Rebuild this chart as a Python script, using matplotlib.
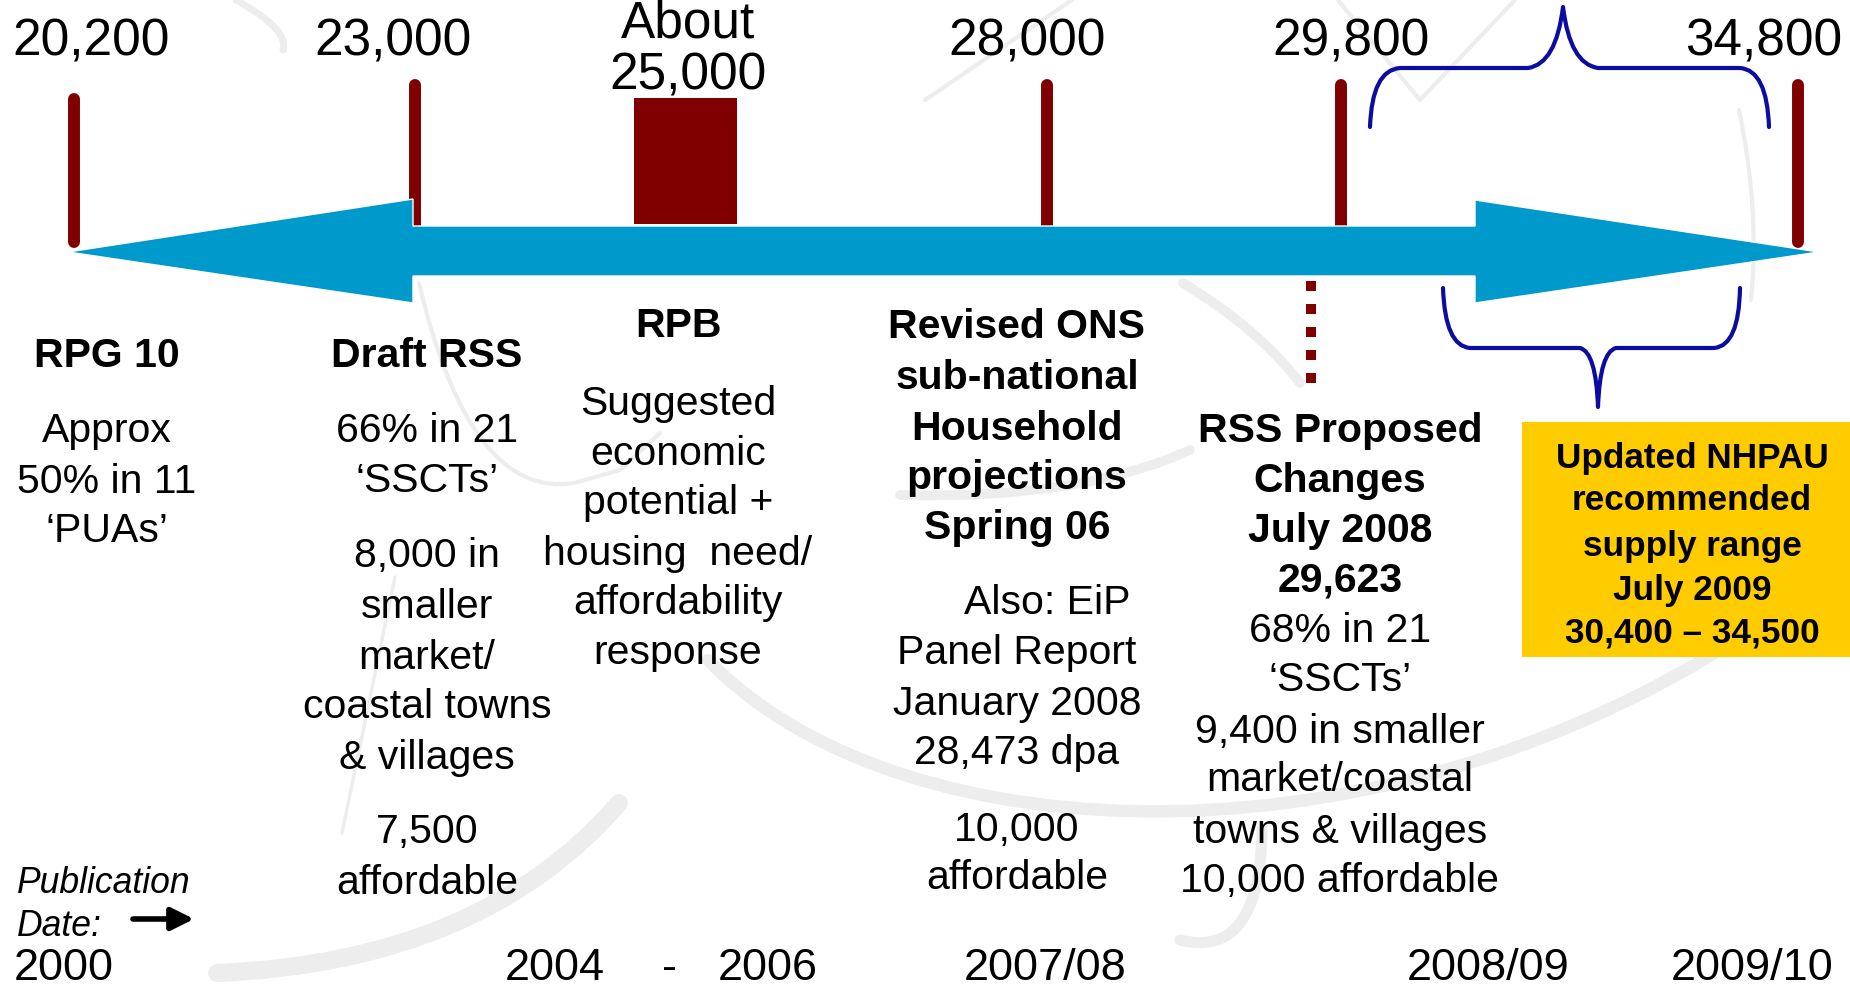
import matplotlib
matplotlib.use("Agg")
import matplotlib.pyplot as plt
from matplotlib.patches import Polygon, Rectangle, PathPatch
from matplotlib.path import Path
from matplotlib.lines import Line2D

plt.rcParams['font.family'] = ['Liberation Sans', 'DejaVu Sans']

# ---------------- data (text content) ----------------
top_values = [["20,200"], ["23,000"], ["About", "25,000"], ["28,000"], ["29,800"], ["34,800"]]
marker_kind = ["line", "line", "box", "line", "line", "line"]

col_lines = [
    [("RPG 10", True), ("Approx", False), ("50% in 11", False), ("\u2018PUAs\u2019", False)],
    [("Draft RSS", True), ("66% in 21", False), ("\u2018SSCTs\u2019", False), ("8,000 in", False),
     ("smaller", False), ("market/", False), ("coastal towns", False), ("& villages", False),
     ("7,500", False), ("affordable", False)],
    [("RPB", True), ("Suggested", False), ("economic", False), ("potential +", False),
     ("housing  need/", False), ("affordability", False), ("response", False)],
    [("Revised ONS", True), ("sub-national", True), ("Household", True), ("projections", True),
     ("Spring 06", True), ("Also: EiP", False), ("Panel Report", False), ("January 2008", False),
     ("28,473 dpa", False), ("10,000", False), ("affordable", False)],
    [("RSS Proposed", True), ("Changes", True), ("July 2008", True), ("29,623", True),
     ("68% in 21", False), ("\u2018SSCTs\u2019", False), ("9,400 in smaller", False),
     ("market/coastal", False), ("towns & villages", False), ("10,000 affordable", False)],
]
nhpau_lines = ["Updated NHPAU", "recommended", "supply range", "July 2009", "30,400 \u2013 34,500"]
pub_lines = ["Publication", "Date:"]
years = ["2000", "2004", "-", "2006", "2007/08", "2008/09", "2009/10"]

# ---------------- layout (pixel coordinates) ----------------
W, H = 1850, 989
marker_x = [74, 415, 686, 1047, 1341, 1798]
marker_top = [99, 85, 98, 85, 85, 85]
marker_bot = [242, 236, 224, 236, 236, 242]
value_cx = [91, 393, 688, 1027, 1351, 1764]
value_cy = [[37], [37], [19, 71], [37], [37], [37]]

col_x = [107, 427, 678, 1017, 1340]
col_y = [
    [352, 427, 478, 527],
    [352, 427, 477, 552, 603, 654, 703, 754, 828, 879],
    [322, 400, 450, 499, 550, 599, 649],
    [323, 374, 425, 474, 524, 599, 649, 700, 749, 826, 874],
    [427, 477, 527, 577, 627, 676, 728, 776, 828, 877],
]
col_dx = {(3, 5): 30}
nhpau_y = [455, 497, 543, 587, 630]
year_x = [14, 555, 669, 768, 1045, 1488, 1752]
year_ha = ["left", "center", "center", "center", "center", "center", "center"]

BLUE = "#0099CC"
DRED = "#800000"
NAVY = "#0C0CA0"
YEL = "#FFCC00"
WM = "#ededed"

fig = plt.figure(figsize=(W / 100, H / 100), dpi=100)
ax = fig.add_axes([0, 0, 1, 1])
ax.set_xlim(0, W)
ax.set_ylim(H, 0)
ax.axis("off")


def put(x, yc, s, size, bold=False, italic=False, ha="center", color="black", z=5):
    em = size * 100 / 72
    ax.text(x, yc + 0.36 * em, s, fontsize=size, fontweight="bold" if bold else "normal",
            fontstyle="italic" if italic else "normal", ha=ha, va="baseline", color=color, zorder=z)


def bez(pts, codes, lw, color=WM, z=0, cap="round"):
    p = Path(pts, codes)
    ax.add_patch(PathPatch(p, fill=False, lw=lw, edgecolor=color, zorder=z, capstyle=cap,
                           joinstyle="round"))

# ---------------- faint watermark ----------------
M, Q, C, L = Path.MOVETO, Path.CURVE3, Path.CURVE4, Path.LINETO
bez([(217, 973), (482, 962), (619, 803)], [M, Q, Q], 13)
bez([(395, 577), (342, 833)], [M, L], 2.5)
bez([(419, 283), (470, 500), (574, 483), (620, 470), (660, 433)], [M, Q, Q, L, L], 3)
bez([(708, 660), (900, 860), (1400, 880), (1780, 610)], [M, C, C, C], 9)
bez([(1183, 283), (1260, 330), (1300, 383)], [M, Q, Q], 7)
bez([(1190, 450), (1080, 500), (900, 495)], [M, Q, Q], 7)
bez([(1262, 830), (1260, 960), (1180, 940)], [M, Q, Q], 8)
bez([(925, 100), (1072, 0)], [M, L], 3)
bez([(1338, 0), (1420, 100), (1515, 0)], [M, L, L], 3)
bez([(236, 0), (290, 30), (283, 50)], [M, Q, Q], 5)
bez([(1739, 110), (1760, 210), (1751, 300)], [M, Q, Q], 3)

# ---------------- markers ----------------
for k, x, t, b in zip(marker_kind, marker_x, marker_top, marker_bot):
    if k == "line":
        ax.add_line(Line2D([x, x], [t, b], lw=8.6, color=DRED, solid_capstyle="round", zorder=2))
    else:
        ax.add_patch(Rectangle((634, t), 103, b - t, facecolor=DRED, edgecolor="none", zorder=2))

# ---------------- double-headed arrow ----------------
arrow = [(68, 252), (413, 199), (413, 226), (1475, 226), (1475, 200), (1819, 252),
         (1475, 303), (1475, 276), (413, 276), (413, 303)]
ax.add_patch(Polygon(arrow, closed=True, facecolor=BLUE, edgecolor="white", lw=1, zorder=3))

# dashed connector
ax.add_line(Line2D([1311, 1311], [281, 391], lw=7.2, color=DRED, dashes=(1.0, 1.3),
                   solid_capstyle="butt", dash_capstyle="butt", zorder=2))

# ---------------- braces ----------------
bez([(1370, 127), (1372, 70), (1400, 68), (1528, 68), (1556, 64), (1563, 7),
     (1570, 64), (1598, 68), (1740, 68), (1767, 70), (1769, 127)],
    [M, Q, Q, L, Q, Q, Q, Q, L, Q, Q], 3, color=NAVY, z=4)
bez([(1443, 288), (1445, 346), (1470, 348), (1580, 348), (1596, 352), (1598, 407),
     (1600, 352), (1616, 348), (1714, 348), (1739, 346), (1740, 288)],
    [M, Q, Q, L, Q, Q, Q, Q, L, Q, Q], 3, color=NAVY, z=4)

# ---------------- yellow box ----------------
ax.add_patch(Rectangle((1522, 422), W - 1522, 235, facecolor=YEL, edgecolor="none", zorder=3))
for s, y in zip(nhpau_lines, nhpau_y):
    put(1692, y, s, 25.3, bold=True)

# ---------------- texts ----------------
for lines, cx, cys in zip(top_values, value_cx, value_cy):
    for s, cy in zip(lines, cys):
        put(cx, cy, s, 37)

for ci, (lines, cx, ys) in enumerate(zip(col_lines, col_x, col_y)):
    for li, ((s, b), y) in enumerate(zip(lines, ys)):
        put(cx + col_dx.get((ci, li), 0), y, s, 29.5, bold=b)

put(17, 880, pub_lines[0], 25.6, italic=True, ha="left")
put(17, 923, pub_lines[1], 25.6, italic=True, ha="left")
ax.annotate("", xy=(194, 919), xytext=(133, 919),
            arrowprops=dict(arrowstyle="-|>", lw=4, color="black", mutation_scale=34,
                            shrinkA=0, shrinkB=0))

for s, x, ha in zip(years, year_x, year_ha):
    put(x, 964, s, 32.5, ha=ha)

fig.savefig("out.png", dpi=100)
